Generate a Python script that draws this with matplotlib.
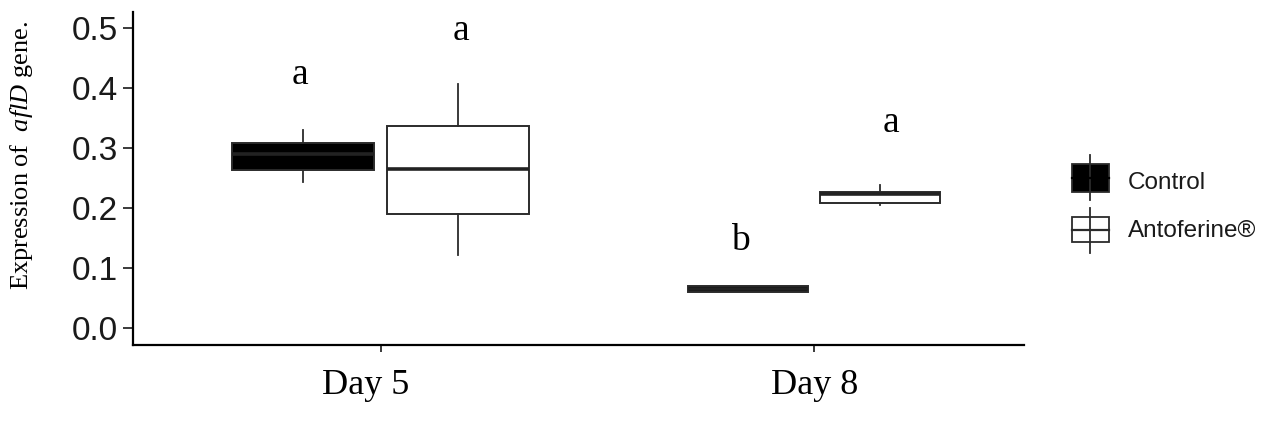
import matplotlib
matplotlib.use('Agg')
import matplotlib.pyplot as plt
from matplotlib.patches import Rectangle
import matplotlib.transforms as mtransforms

days = ['Day 5', 'Day 8']
groups = ['Control', 'Antoferine®']

# five-number summaries: whislo, q1, median, q3, whishi
control = [(0.244, 0.263, 0.290, 0.308, 0.330),
           (0.060, 0.060, 0.065, 0.070, 0.070)]
antoferine = [(0.122, 0.191, 0.266, 0.337, 0.407),
              (0.205, 0.209, 0.223, 0.227, 0.238)]

# significance letters and the height they sit at
letters_control = ['a', 'b']
letters_anto = ['a', 'a']
letter_y_control = [0.407, 0.13]
letter_y_anto = [0.48, 0.327]

plt.rcParams['mathtext.fontset'] = 'custom'
plt.rcParams['mathtext.rm'] = 'Liberation Serif'
plt.rcParams['mathtext.it'] = 'Liberation Serif:italic'

W, H = 1274, 425
fig = plt.figure(figsize=(W / 100, H / 100), dpi=100)
ax = fig.add_axes([133 / W, 1 - 345 / H, (1024 - 133) / W, (345 - 12) / H])

edge = '#2b2b2b'
offs = [0.179, 0.152]
widths = [0.328, 0.277]

stats, pos, wid, fills = [], [], [], []
for i in range(len(days)):
    for vals, sign, fc in [(control[i], -1, 'black'), (antoferine[i], 1, 'white')]:
        lo, q1, med, q3, hi = vals
        stats.append(dict(whislo=lo, q1=q1, med=med, q3=q3, whishi=hi, fliers=[]))
        pos.append(i + 1 + sign * offs[i])
        wid.append(widths[i])
        fills.append(fc)

bp = ax.bxp(stats, positions=pos, widths=wid, patch_artist=True,
            showcaps=False, showfliers=False,
            boxprops=dict(edgecolor=edge, linewidth=1.4),
            whiskerprops=dict(color=edge, linewidth=1.3),
            medianprops=dict(color='#222222', linewidth=2.6, solid_capstyle='butt'))
for patch, fc in zip(bp['boxes'], fills):
    patch.set_facecolor(fc)

nudge_c = [-0.007, -0.019]
nudge_a = [0.006, 0.026]
for i in range(len(days)):
    ax.text(i + 1 - offs[i] + nudge_c[i], letter_y_control[i], letters_control[i],
            ha='center', va='baseline', fontsize=27, family='Liberation Serif')
    ax.text(i + 1 + offs[i] + nudge_a[i], letter_y_anto[i], letters_anto[i],
            ha='center', va='baseline', fontsize=27, family='Liberation Serif')

ax.set_xlim(0.429, 2.484)
ax.set_ylim(-0.028, 0.527)
ax.set_xticks([1, 2])
ax.set_xticklabels(days, family='Liberation Serif', fontsize=26)
ax.set_yticks([0.0, 0.1, 0.2, 0.3, 0.4, 0.5])
ax.set_yticklabels(['0.0', '0.1', '0.2', '0.3', '0.4', '0.5'],
                   family='Liberation Sans', fontsize=24, color='#1a1a1a')
ax.tick_params(axis='x', length=5, width=1.3, color=edge, pad=12)
ax.tick_params(axis='y', length=7, width=1.3, color=edge, pad=4)
shift = mtransforms.ScaledTranslation(-15 / 100, 0, fig.dpi_scale_trans)
ax.get_xticklabels()[0].set_transform(ax.get_xticklabels()[0].get_transform() + shift)

for s in ['top', 'right']:
    ax.spines[s].set_visible(False)
for s in ['left', 'bottom']:
    ax.spines[s].set_linewidth(1.6)
    ax.spines[s].set_color('black')

fig.text(22 / W, 1 - 155 / H, r'Expression of  $\it{aflD}$ gene.', rotation=90,
         ha='center', va='center', fontsize=19, family='Liberation Serif')

# legend drawn in its own pixel-sized axes
lx, ly, lw, lh = 1060, 145, 214, 120
lax = fig.add_axes([lx / W, 1 - (ly + lh) / H, lw / W, lh / H])
lax.set_xlim(lx, lx + lw)
lax.set_ylim(ly + lh, ly)
lax.axis('off')
keys = [(164, 192, 155, 200, 'black', 'black', 183),
        (217, 242, 208, 253, 'white', edge, 231)]
for (top, bot, wt, wb, fc, mc, ty), name in zip(keys, groups):
    lax.plot([1090.5, 1090.5], [wt, wb], color=edge, lw=1.3)
    lax.add_patch(Rectangle((1072, top), 37, bot - top, facecolor=fc,
                            edgecolor=edge, lw=1.3))
    lax.plot([1072, 1109], [(top + bot) / 2] * 2, color=mc, lw=1.6)
    lax.text(1128, ty, name, ha='left', va='center',
             fontsize=17.5, family='Liberation Sans', color='#1a1a1a')

fig.savefig('out.png', dpi=100)
